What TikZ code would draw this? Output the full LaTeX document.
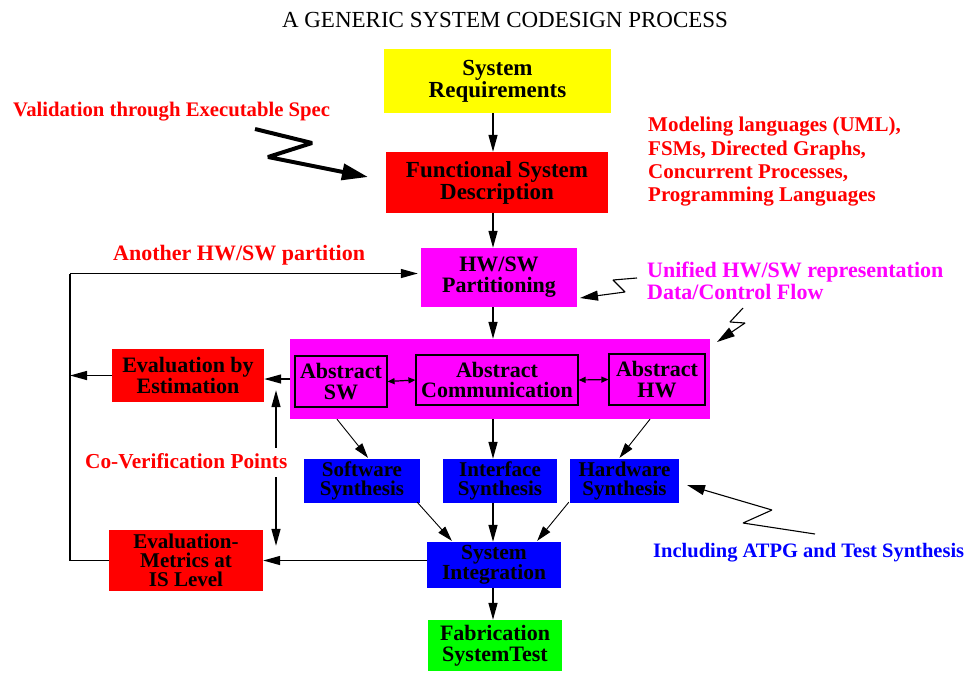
\documentclass[tikz,border=0pt]{standalone}
\usepackage{fontspec}
\setmainfont{Liberation Serif}
\usetikzlibrary{arrows.meta,calc}
\definecolor{cyel}{RGB}{255,255,0}
\definecolor{cred}{RGB}{255,0,0}
\definecolor{cmag}{RGB}{255,0,255}
\definecolor{cblue}{RGB}{0,0,255}
\definecolor{cgreen}{RGB}{0,255,0}
\newcommand\myfs[2]{\bfseries\fontsize{#1}{#2}\selectfont}
\begin{document}
\begin{tikzpicture}[x=1pt,y=-1pt,
  box/.style={rectangle,inner sep=0pt,align=center,text=black},
  absbox/.style={rectangle,draw=black,line width=1.2pt,inner sep=0pt,align=center,text=black},
  lbl/.style={inner sep=0pt,align=left},
  arr/.style={line width=1.4pt,-{Triangle[length=17pt,width=9pt]}},
  thinarr/.style={line width=0.9pt,-{Triangle[length=15pt,width=9pt]}},
  dbl/.style={line width=1.2pt,{Triangle[length=7pt,width=6pt]}-{Triangle[length=7pt,width=6pt]}},
  loopline/.style={line width=1.6pt},
  bolt/.style={line width=4pt,line join=bevel,-{Triangle[length=26pt,width=16pt]}},
  smallbolt/.style={line width=1.1pt,line join=bevel,-{Triangle[length=18pt,width=10pt]}}]
\useasboundingbox (0,0) rectangle (973,673);
\fill[white] (0,0) rectangle (973,673);

% title
\node[inner sep=0pt,anchor=base,font=\fontsize{23}{25}\selectfont] (title) at (505,27) {A GENERIC SYSTEM CODESIGN PROCESS};

% main column
\node[box,fill=cyel,minimum width=227pt,minimum height=64pt,font=\myfs{23}{22}] (req) at (497.5,81) {System\\Requirements};
\node[box,fill=cred,minimum width=222pt,minimum height=61pt,font=\myfs{23}{22}] (func) at (497,182.5) {Functional System\\Description};
\node[box,fill=cmag,minimum width=156pt,minimum height=59pt,font=\myfs{22}{21}] (part) at (499,277.5) {HW/SW\\Partitioning};
\node[box,fill=cmag,minimum width=420pt,minimum height=80pt] (big) at (500,379) {};
\node[absbox,minimum width=92pt,minimum height=51pt,font=\myfs{22}{20.5}] (absSW) at (341,381.5) {Abstract\\SW};
\node[absbox,minimum width=162pt,minimum height=50pt,font=\myfs{22}{20.5}] (absComm) at (497,380) {Abstract\\Communication};
\node[absbox,minimum width=96pt,minimum height=51pt,font=\myfs{22}{20.5}] (absHW) at (657,379.5) {Abstract\\HW};
\node[box,fill=cred,minimum width=152pt,minimum height=53pt,font=\myfs{22}{20.5}] (evalEst) at (188,375.5) {Evaluation by\\Estimation};
\node[box,fill=cblue,minimum width=116pt,minimum height=44pt,font=\myfs{21}{19.5}] (sws) at (362,481) {Software\\Synthesis};
\node[box,fill=cblue,minimum width=114pt,minimum height=44pt,font=\myfs{21}{19.5}] (ifs) at (500,481) {Interface\\Synthesis};
\node[box,fill=cblue,minimum width=109pt,minimum height=44pt,font=\myfs{21}{19.5}] (hws) at (624.5,481) {Hardware\\Synthesis};
\node[box,fill=cblue,minimum width=134pt,minimum height=46pt,font=\myfs{21.5}{20}] (sysint) at (494,565) {System\\Integration};
\node[box,fill=cred,minimum width=154pt,minimum height=61pt,font=\myfs{21}{19}] (evalMet) at (186,560.5) {Evaluation-\\Metrics at\\IS Level};
\node[box,fill=cgreen,minimum width=134pt,minimum height=51pt,font=\myfs{22}{21}] (fab) at (495,645.5) {Fabrication\\SystemTest};

% annotations
\node[lbl,anchor=base west,text=cred,font=\myfs{20.7}{23}] (valid) at (13,116) {Validation through Executable Spec};
\node[lbl,anchor=north west,text=cred,font=\myfs{21}{23.3}] (model) at (648,117) {Modeling languages (UML),\\FSMs, Directed Graphs,\\Concurrent Processes,\\Programming Languages};
\node[lbl,anchor=base west,text=cred,font=\myfs{22}{24}] (another) at (113,260) {Another HW/SW partition};
\node[lbl,anchor=north west,text=cmag,font=\myfs{22}{21.5}] (unified) at (647,262) {Unified HW/SW representation\\Data/Control Flow};
\node[lbl,anchor=base west,text=cred,font=\myfs{21.3}{23}] (cvtext) at (85,468) {Co-Verification Points};
\node[lbl,anchor=base west,text=cblue,font=\myfs{20.5}{23}] (incl) at (653,557) {Including ATPG and Test Synthesis};

% helper coordinates
\coordinate (col) at (493,0);
\coordinate (fbx) at (70,0);
\coordinate (cv) at (276,0);

% main flow
\draw[arr] (req.south -| col) -- (func.north -| col);
\draw[arr] (func.south -| col) -- (part.north -| col);
\draw[arr] (part.south -| col) -- (big.north -| col);
\draw[arr] (big.south -| col) -- (ifs.north -| col);
\draw[arr] (ifs.south -| col) -- (sysint.north -| col);
\draw[arr] (sysint.south -| col) -- (fab.north -| col);

% big box to synthesis
\draw[thinarr] ($(big.south)+(-163,0)$) -- ($(sws.north)+(6,-1)$);
\draw[thinarr] ($(big.south)+(150,0)$) -- ($(hws.north)+(-5,-1)$);
\draw[thinarr] ($(sws.south east)+(-3,-1)$) -- ($(sysint.north west)+(25,-1)$);
\draw[thinarr] ($(hws.south west)+(-1,-1)$) -- ($(sysint.north east)+(-24,-1)$);

% abstract double arrows
\draw[dbl] (absSW.east) -- (absComm.west);
\draw[dbl] (absComm.east) -- (absHW.west);

% evaluations
\draw[arr] (big.west) -- (evalEst.east |- big.west);
\draw[arr] (evalEst.west) -- (fbx |- evalEst.west);
\draw[arr] (sysint.west |- evalMet.east) -- (evalMet.east);
\coordinate (fbtop) at ($(part.west)+(-3,-4)$);
\draw[loopline] (evalMet.west) -- (fbx |- evalMet.west) -- (fbx |- fbtop);
\draw[loopline,arr] (fbx |- fbtop) -- (fbtop);

% co-verification line
\draw[arr] ($(cv |- cvtext.north)+(0,-5)$) -- ($(cv |- evalEst.south)+(0,-12)$);
\draw[arr] ($(cv |- cvtext.base)+(0,9)$) -- ($(cv |- evalMet.north)+(0,16)$);

% lightning arrows
\draw[bolt] (255,129) -- (312,143) -- (268,157) -- (368,177);
\draw[smallbolt] (637,278) -- (613,280) -- (625,292) -- (580,298);
\draw[smallbolt] (743,308) -- (730,322) -- (745,323) -- (717,342);
\draw[smallbolt] (815,534) -- (743,523) -- (772,510) -- (687,485);
\end{tikzpicture}
\end{document}
